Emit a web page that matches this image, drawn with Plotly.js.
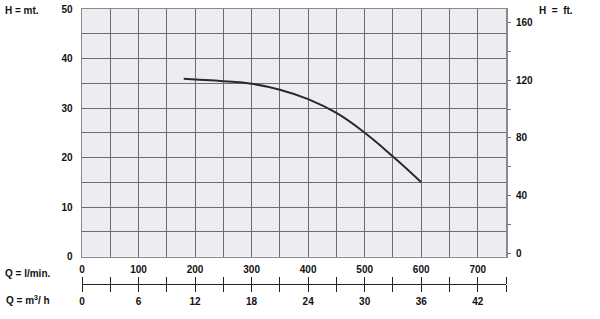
<!DOCTYPE html>
<html><head><meta charset="utf-8">
<script src="https://cdn.plot.ly/plotly-3.0.1.min.js"></script>
<style>html,body{margin:0;padding:0;background:#fff}#c{width:600px;height:319px}</style>
</head><body><div id="c"></div>
<script>
// Pump curve: flow (l/min) vs head (m)
const flowLpm = [180, 200, 250, 300, 350, 400, 450, 500, 550, 600];
const headM   = [35.9, 35.75, 35.4, 34.9, 33.7, 31.8, 29.0, 25.0, 20.2, 15.0];

const lpmTicks  = [0, 100, 200, 300, 400, 500, 600, 700];
const m3hTicks  = [0, 6, 12, 18, 24, 30, 36, 42];
const ftTicks   = [0, 40, 80, 120, 160];

const W = 600, H = 319;
const L = 82, R = 506, T = 9, B = 284;
const plotBottom = 256.5;
const px = x => (x - L) / (R - L);
const py = y => (B - y) / (B - T);

const font = {family: 'Liberation Sans, Arial, sans-serif', size: 10, color: '#111', weight: 'bold'};
const gridC = '#6e6e72';

const traces = [
  {x: flowLpm, y: headM, type: 'scatter', mode: 'lines', line: {color: '#2a2a2a', width: 2, shape: 'spline', smoothing: 1.3}, xaxis: 'x', yaxis: 'y', hoverinfo: 'skip'},
  {x: [0], y: [0], type: 'scatter', mode: 'markers', marker: {opacity: 0}, xaxis: 'x2', yaxis: 'y2', hoverinfo: 'skip'},
  {x: [0], y: [0], type: 'scatter', mode: 'markers', marker: {opacity: 0}, xaxis: 'x3', yaxis: 'y', hoverinfo: 'skip'},
  {x: [0], y: [0], type: 'scatter', mode: 'markers', marker: {opacity: 0}, xaxis: 'x4', yaxis: 'y', hoverinfo: 'skip'},
  {x: [0], y: [0], type: 'scatter', mode: 'markers', marker: {opacity: 0}, xaxis: 'x5', yaxis: 'y', hoverinfo: 'skip'}
];

const layout = {
  width: W, height: H,
  margin: {l: L, r: W - R, t: T, b: H - B, pad: 0},
  paper_bgcolor: '#ffffff',
  plot_bgcolor: '#ededf1',
  showlegend: false,
  font: font,
  xaxis: {
    range: [0, 750], anchor: 'y', dtick: 50, tick0: 0,
    showgrid: true, gridcolor: gridC, gridwidth: 1,
    showticklabels: false, ticks: '', zeroline: false,
    showline: true, mirror: true, linecolor: '#8a8a8e', linewidth: 1.5
  },
  yaxis: {
    domain: [py(plotBottom), 1], range: [0, 50], dtick: 10, tick0: 0,
    showgrid: true, gridcolor: gridC, gridwidth: 1,
    minor: {dtick: 5, tick0: 0, showgrid: true, gridcolor: gridC, gridwidth: 1, ticks: ''},
    ticks: '', ticklabelstandoff: 6, zeroline: false,
    showline: true, mirror: true, linecolor: '#8a8a8e', linewidth: 1.5,
    tickfont: font
  },
  yaxis2: {
    overlaying: 'y', side: 'right', anchor: 'x',
    range: [-2.43, 169.7],
    tickmode: 'array', tickvals: ftTicks, ticktext: ftTicks.map(String),
    ticks: 'outside', ticklen: 4, tickcolor: '#777', tickwidth: 1,
    minor: {dtick: 20, tick0: 0, ticks: 'outside', ticklen: 4, tickcolor: '#777', tickwidth: 1, showgrid: false},
    showgrid: false, zeroline: false, showline: false,
    ticklabelstandoff: 3, tickfont: font
  },
  xaxis2: {
    overlaying: 'x', anchor: 'free', position: 0, side: 'top',
    range: [0, 750], tickmode: 'linear', tick0: 0, dtick: 50,
    ticks: 'outside', ticklen: 7, tickcolor: '#222', tickwidth: 1,
    showticklabels: false, showgrid: false, zeroline: false,
    showline: true, linecolor: '#222', linewidth: 1.3
  },
  xaxis3: {
    overlaying: 'x', anchor: 'free', position: 0, side: 'bottom',
    range: [0, 750], tickmode: 'linear', tick0: 0, dtick: 50,
    ticks: 'outside', ticklen: 7, tickcolor: '#222', tickwidth: 1,
    showticklabels: false, showgrid: false, zeroline: false, showline: false
  },
  xaxis4: {
    overlaying: 'x', anchor: 'free', position: 0, side: 'top',
    range: [0, 750], tickmode: 'array', tickvals: lpmTicks, ticktext: lpmTicks.map(String),
    ticks: '', showgrid: false, zeroline: false, showline: false,
    ticklabelstandoff: 9, tickfont: font
  },
  xaxis5: {
    overlaying: 'x', anchor: 'free', position: 0, side: 'bottom',
    range: [0, 750], tickmode: 'array', tickvals: m3hTicks.map(v => v * 1000 / 60), ticktext: m3hTicks.map(String),
    ticks: '', showgrid: false, zeroline: false, showline: false,
    ticklabelstandoff: 10, tickfont: font
  },
  annotations: [
    {text: 'H = mt.', x: px(3), y: py(10.5), xref: 'paper', yref: 'paper', xanchor: 'left', yanchor: 'middle', showarrow: false, font: font},
    {text: 'H  =  ft.', x: px(537), y: py(10.5), xref: 'paper', yref: 'paper', xanchor: 'left', yanchor: 'middle', showarrow: false, font: font},
    {text: 'Q = l/min.', x: px(3), y: py(273), xref: 'paper', yref: 'paper', xanchor: 'left', yanchor: 'middle', showarrow: false, font: font},
    {text: 'Q = m<sup>3</sup>/ h', x: px(4), y: py(300), xref: 'paper', yref: 'paper', xanchor: 'left', yanchor: 'middle', showarrow: false, font: font}
  ]
};

Plotly.newPlot('c', traces, layout, {staticPlot: true, displayModeBar: false});
</script></body></html>
